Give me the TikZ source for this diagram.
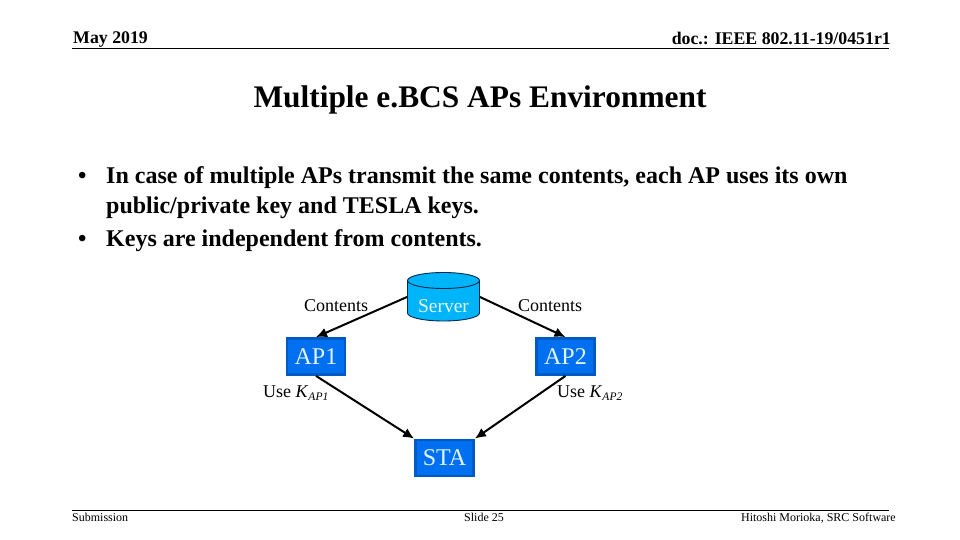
\documentclass[tikz,border=0pt]{standalone}
\usepackage{fontspec}
\setmainfont{Liberation Serif}
\usetikzlibrary{arrows.meta}
\definecolor{boxfill}{RGB}{0,112,240}
\definecolor{boxline}{RGB}{0,90,195}
\definecolor{srvfill}{RGB}{0,180,250}
\definecolor{srvline}{RGB}{0,40,80}
\definecolor{lbl}{RGB}{225,245,255}
\tikzset{
  x=1pt,y=-1pt,
  apbox/.style={draw=boxline,line width=2.8pt,fill=boxfill,text=lbl,minimum width=58pt,minimum height=36pt,inner sep=0pt,font=\fontsize{24}{24}\selectfont},
  flow/.style={-{Latex[length=11pt,width=10pt]},line width=2pt,black},
  rule/.style={line width=0.9pt,black},
  txt/.style={inner sep=0pt,black},
  small/.style={txt,font=\fontsize{18}{20}\selectfont},
  foot/.style={txt,font=\fontsize{12}{14}\selectfont},
  head/.style={txt,font=\bfseries\fontsize{17.8}{20}\selectfont},
  body/.style={txt,anchor=base west,font=\bfseries\fontsize{24}{26}\selectfont}
}
\begin{document}
\begin{tikzpicture}
\useasboundingbox (0,0) rectangle (960,540);
\fill[white] (0,0) rectangle (960,540);
% header
\node[head,anchor=base west] (date) at (73,44) {May 2019};
\node[head,anchor=base east] (doc) at (891,45) {doc.: IEEE 802.11-19/0451r1};
\draw[rule] (72,48.5) -- (889,48.5);
\node[txt,anchor=base,font=\bfseries\fontsize{31.4}{34}\selectfont] (title) at (480,108) {Multiple e.BCS APs Environment};
% bullets
\node[body] (b1) at (78,183) {•};
\node[body] (t1) at (106,183) {In case of multiple APs transmit the same contents, each AP uses its own};
\node[body] (t1b) at (106,213) {public/private key and TESLA keys.};
\node[body] (b2) at (78,246) {•};
\node[body] (t2) at (106,246) {Keys are independent from contents.};
% server
\filldraw[draw=srvline,line width=0.9pt,fill=srvfill] (407.5,280.5) -- (407.5,313) arc[start angle=180,end angle=360,x radius=36,y radius=-8] -- (479.5,280.5) arc[start angle=0,end angle=180,x radius=36,y radius=-8] -- cycle;
\draw[srvline,line width=0.9pt] (407.5,280.5) arc[start angle=180,end angle=360,x radius=36,y radius=-8];
\coordinate (srvL) at (407,297);
\coordinate (srvR) at (480,297);
\node[txt,text=lbl,font=\fontsize{19.5}{20}\selectfont] (server) at (443.5,306) {Server};
% boxes
\node[apbox] (ap1) at (316,356.5) {AP1};
\node[apbox] (ap2) at (565.5,356.5) {AP2};
\node[apbox] (sta) at (444.5,458) {STA};
% connectors
\draw[flow] (srvL) -- (ap1.north);
\draw[flow] (srvR) -- (ap2.north);
\draw[flow] (ap1.south) -- (sta.north west);
\draw[flow] (ap2.south) -- (sta.north east);
% labels
\node[small,anchor=base west] (c1) at (304,311) {Contents};
\node[small,anchor=base west] (c2) at (518,311) {Contents};
\node[small,anchor=base west] (u1) at (263,397) {Use \textit{K}\raisebox{-3pt}{\textit{\fontsize{11.5}{12}\selectfont AP1}}};
\node[small,anchor=base west] (u2) at (557,397) {Use \textit{K}\raisebox{-3pt}{\textit{\fontsize{11.5}{12}\selectfont AP2}}};
% footer
\draw[rule] (72,510.5) -- (889,510.5);
\node[foot,anchor=base west] (sub) at (72,521) {Submission};
\node[foot,anchor=base] (slide) at (484,521) {Slide 25};
\node[foot,anchor=base east] (auth) at (896,521) {Hitoshi Morioka, SRC Software};
\end{tikzpicture}
\end{document}
